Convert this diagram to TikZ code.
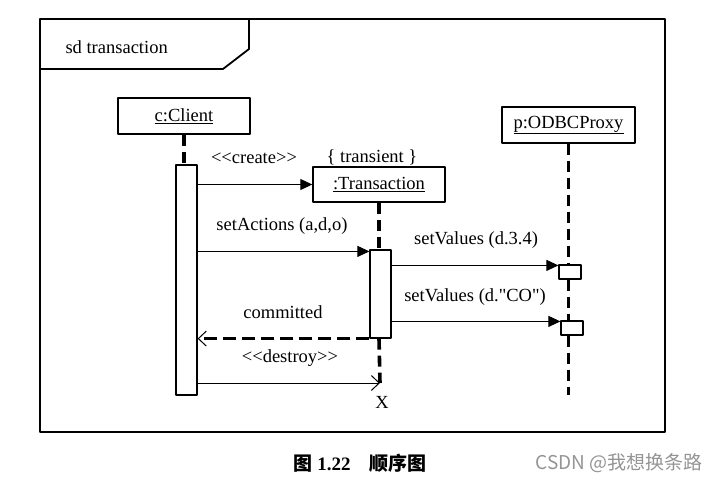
\documentclass[tikz,border=0pt]{standalone}
\usepackage{fontspec}
\setmainfont{Liberation Serif}[Ligatures=TeXOff]
\newfontfamily\cjk{Noto Sans CJK SC}
\usetikzlibrary{arrows.meta}
\begin{document}
\begin{tikzpicture}[x=1pt, y=-1pt, font=\fontsize{18.5}{22}\selectfont, line join=round, >=stealth,
	obj/.style={draw, line width=1.4pt, minimum width=132pt, minimum height=36pt, inner sep=0pt},
	act/.style={draw, line width=1.2pt, fill=white, minimum width=21pt, inner sep=0pt},
	life/.style={line width=3.6pt, dash pattern=on 11pt off 6pt},
	msg/.style={line width=1pt, -{Triangle[length=12pt,width=11pt]}},
	rep/.style={-{Straight Barb[length=8pt,width=15pt,line width=1pt]}}]
	\useasboundingbox (0,0) rectangle (720,482);
	\draw[line width=1.8pt] (40,19) rectangle (665,432);
	\draw[line width=1.8pt] (40,69)--(223,69)--(249,49)--(249,19);
	\node[anchor=west] (sd) at (62,47) {sd transaction};
	\node[obj] (client) at (184,116) {\underline{c:Client}};
	\node[obj, minimum height=35pt] (trans) at (379,184.5) {\underline{:Transaction}};
	\node[obj, minimum width=133pt] (proxy) at (568.5,125) {\underline{p:ODBCProxy}};
	\node[act, minimum height=230pt] (actC) at (186.5,280) {};
	\node[act, minimum height=88pt] (actT) at (380.5,294) {};
	\node[act, minimum width=22pt, minimum height=14pt] (actP1) at (570,272) {};
	\node[act, minimum width=22pt, minimum height=14pt] (actP2) at (572,328) {};
	\coordinate (tend) at (380,383);
	\coordinate (pend) at (568.5,395);
	\draw[life] (client.south)--(client.south |- actC.north);
	\draw[life] (trans.south)--(trans.south |- actT.north);
	\draw[life] (trans.south |- actT.south)--(tend);
	\draw[life] (proxy.south)--(proxy.south |- actP1.north);
	\draw[life] (proxy.south |- actP1.south)--(proxy.south |- actP2.north);
	\draw[life] (proxy.south |- actP2.south)--(pend);
	\coordinate (sa) at ([yshift=-2pt]actT.north west);
	\coordinate (sv1) at ([yshift=-1pt]actP1.north west);
	\coordinate (sv2) at ([yshift=-1pt]actP2.north west);
	\draw[msg] (actC.east |- trans.west)--(trans.west);
	\draw[msg] (actC.east |- sa)--(sa);
	\draw[msg] (actT.east |- sv1)--(sv1);
	\draw[msg] (actT.east |- sv2)--(sv2);
	\draw[rep, line width=3.6pt, dash pattern=on 13pt off 6pt] (actT.south west)--(actC.east |- actT.south);
	\draw[rep, line width=1pt] (actC.east |- tend)--(tend);
	\node (create) at (254,158) {<<create>>};
	\node (transient) at (372,157) {\{ transient \}};
	\node (setact) at (282,226) {setActions (a,d,o)};
	\node (setval1) at (476,240) {setValues (d.3.4)};
	\node (setval2) at (475,297) {setValues (d."CO")};
	\node (committed) at (283,312) {committed};
	\node (destroy) at (290,358) {<<destroy>>};
	\node (xmark) at (382,402) {X};
	\node (caption) at (360,463) {\fontsize{19}{21}\selectfont\bfseries{\cjk 图} 1.22\hspace{1em}{\cjk 顺序图}};
	\node[text=black!42] (mark) at (619,463) {\fontsize{19}{21}\selectfont\cjk CSDN @我想换条路};
\end{tikzpicture}
\end{document}
